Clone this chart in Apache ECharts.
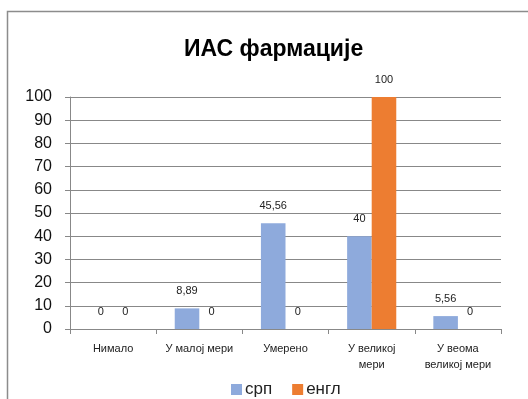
<!DOCTYPE html>
<html>
<head>
<meta charset="utf-8">
<script src="https://cdn.jsdelivr.net/npm/echarts@6/dist/echarts.min.js"></script>
<style>
html,body{margin:0;padding:0;background:#fff;}
#main{width:528px;height:399px;}
</style>
</head>
<body>
<div id="main"></div>
<script>
var categories = ['Нимало', 'У малој мери', 'Умерено', 'У великој\nмери', 'У веома\nвеликој мери'];
var seriesNames = ['срп', 'енгл'];
var srpValues = [0, 8.89, 45.56, 40, 5.56];
var englValues = [0, 0, 0, 100, 0];
var yTicks = [0, 10, 20, 30, 40, 50, 60, 70, 80, 90, 100];

var chart = echarts.init(document.getElementById('main'));
var fontFam = 'Liberation Sans, Arial, sans-serif';
function lbl(p) { return String(p.value).replace('.', ','); }
var labelCfg = { show: true, position: 'top', distance: 12, fontSize: 11, color: '#222', fontFamily: fontFam, formatter: lbl };

chart.setOption({
  animation: false,
  textStyle: { fontFamily: fontFam },
  graphic: [{
    type: 'rect',
    shape: { x: 7.5, y: 11.5, width: 560, height: 430 },
    style: { fill: 'none', stroke: '#8c8c8c', lineWidth: 1.5 },
    silent: true
  }],
  title: {
    text: 'ИАС фармације',
    left: 179,
    top: 33,
    textStyle: { fontSize: 23, fontWeight: 'bold', color: '#000', fontFamily: fontFam }
  },
  legend: {
    data: seriesNames,
    top: 376,
    left: 226,
    itemWidth: 11,
    itemHeight: 11,
    itemGap: 20,
    icon: 'rect',
    textStyle: { fontSize: 17, color: '#222', fontFamily: fontFam, padding: [0, 0, 0, -2] }
  },
  grid: { left: 70, right: 27, top: 97, bottom: 70, containLabel: false },
  xAxis: {
    type: 'category',
    data: categories,
    axisLine: { lineStyle: { color: '#888', width: 1 } },
    axisTick: { show: true, length: 5, lineStyle: { color: '#888' } },
    axisLabel: { fontSize: 11, color: '#222', margin: 12, lineHeight: 16, fontFamily: fontFam, interval: 0 }
  },
  yAxis: {
    type: 'value',
    min: yTicks[0],
    max: yTicks[yTicks.length - 1],
    interval: 10,
    axisLine: { show: true, lineStyle: { color: '#888', width: 1 } },
    axisTick: { show: true, length: 5, inside: false, lineStyle: { color: '#888' } },
    splitLine: { show: true, lineStyle: { color: '#888', width: 1 } },
    axisLabel: { fontSize: 16, color: '#111', margin: 18, fontFamily: fontFam }
  },
  series: [
    {
      name: seriesNames[0],
      type: 'bar',
      data: srpValues,
      barGap: '0%',
      barCategoryGap: '43%',
      itemStyle: { color: '#8EAADC' },
      label: labelCfg
    },
    {
      name: seriesNames[1],
      type: 'bar',
      data: englValues,
      barGap: '0%',
      barCategoryGap: '43%',
      itemStyle: { color: '#ED7D31' },
      label: labelCfg
    }
  ]
});
</script>
</body>
</html>
